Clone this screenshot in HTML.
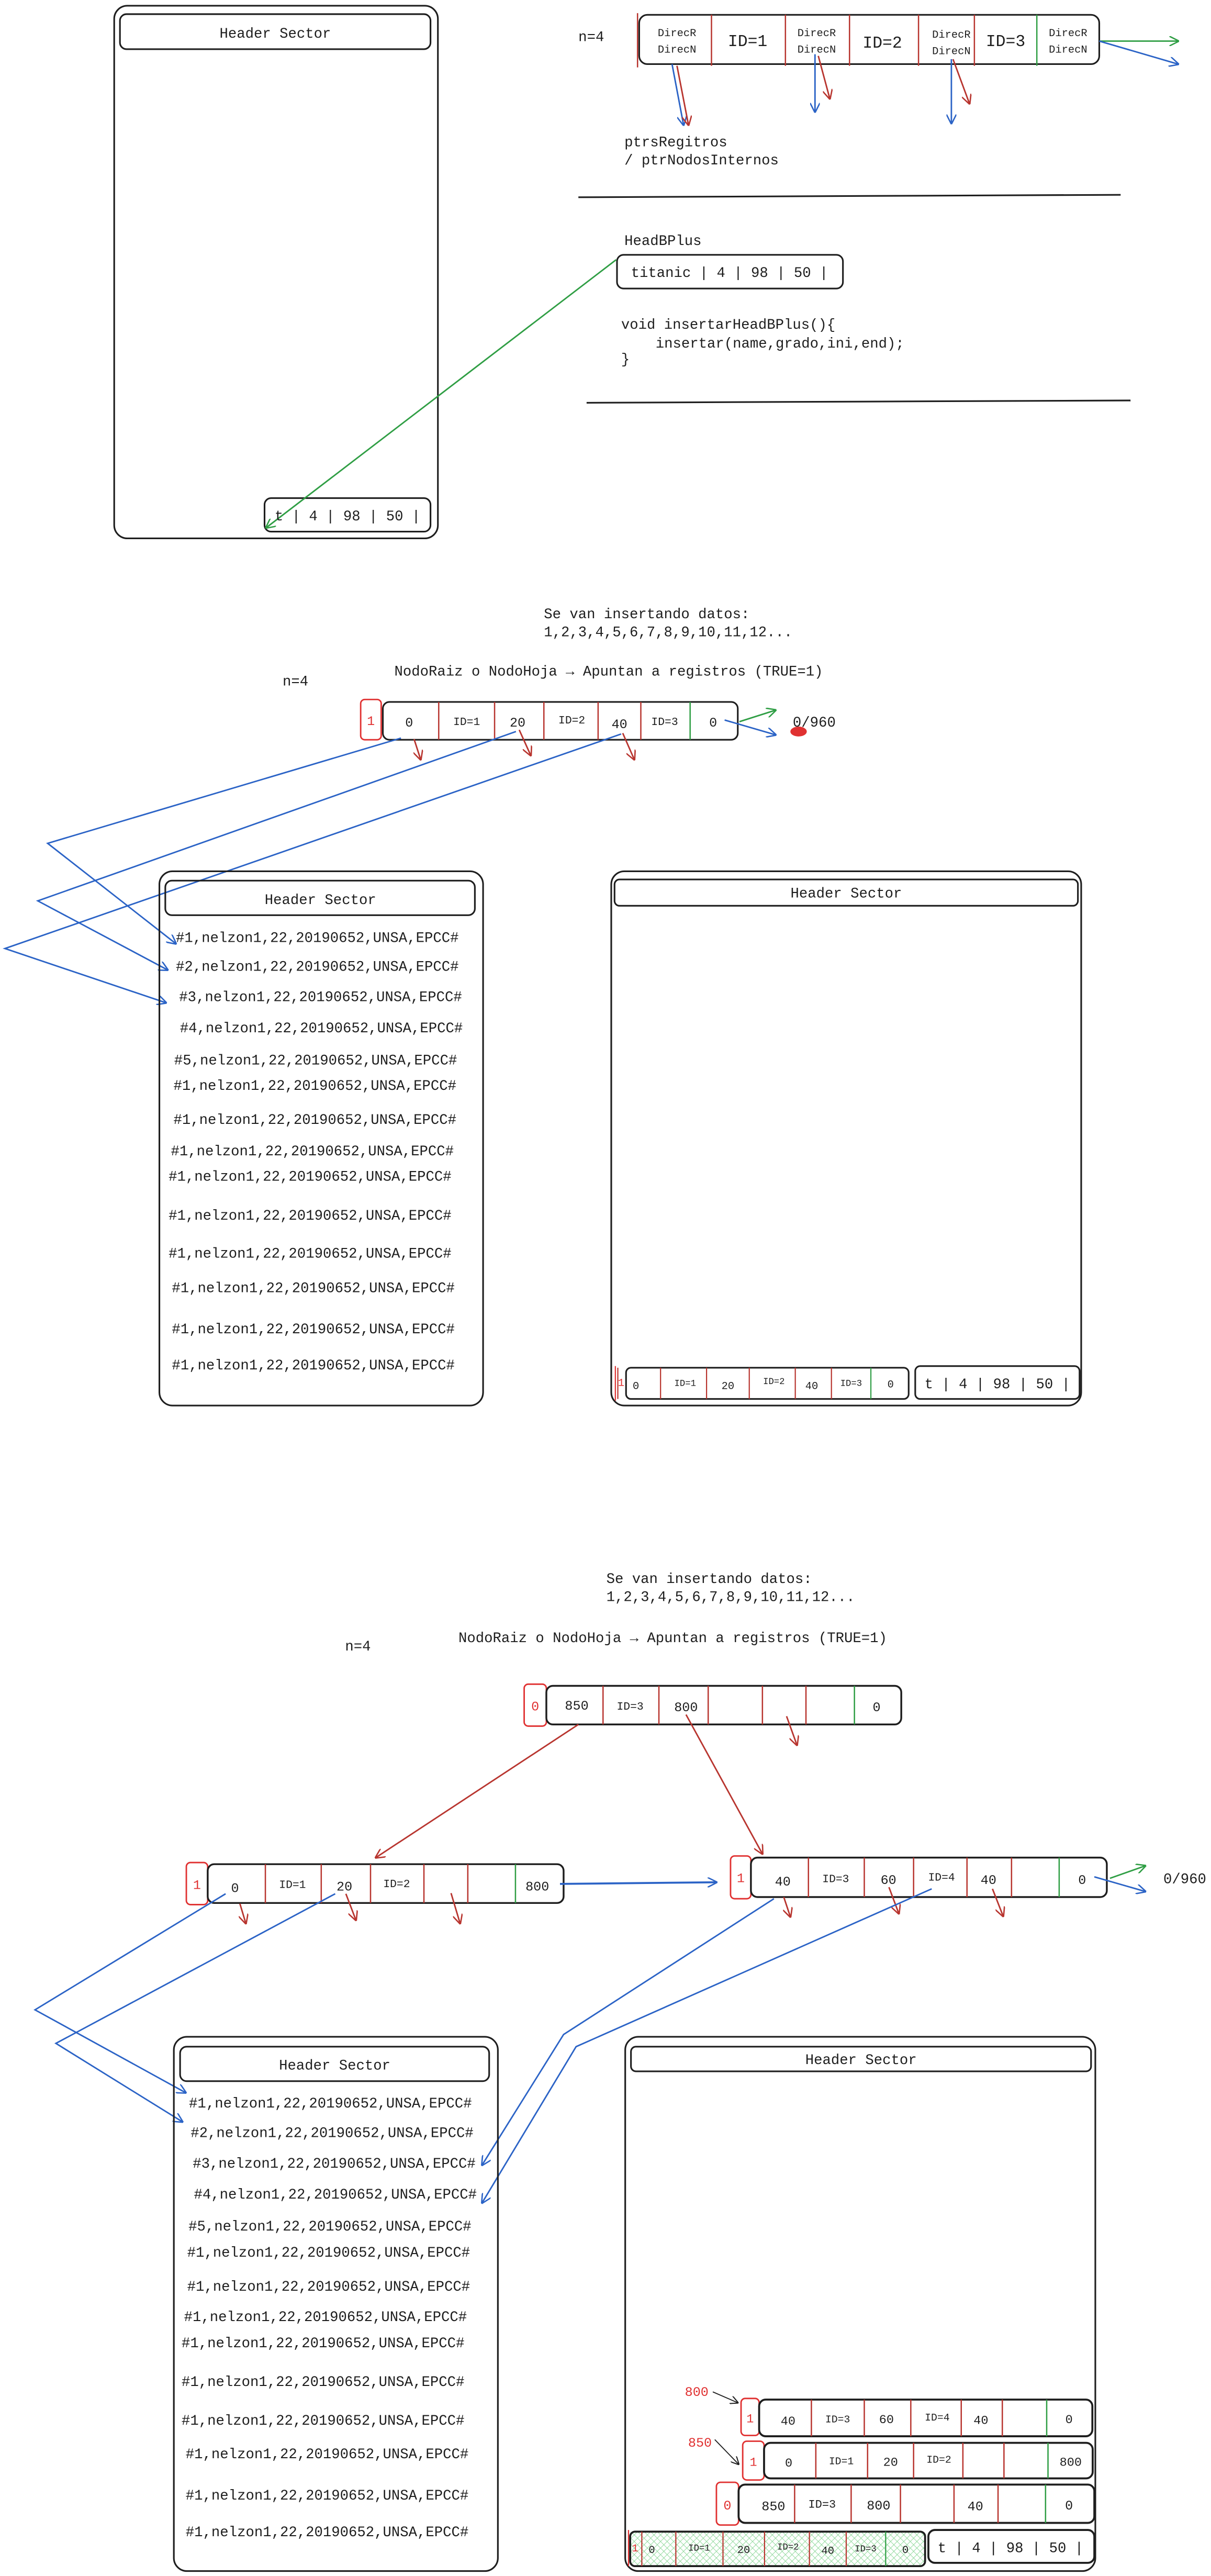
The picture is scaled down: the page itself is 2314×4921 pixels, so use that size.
<!DOCTYPE html>
<html><head><meta charset="utf-8"><style>
html,body{margin:0;padding:0;background:#fff;}
svg{display:block;}
text{font-family:"Liberation Mono",monospace;fill:#1e1e1e;}
</style></head><body>
<svg width="2314" height="4921" viewBox="0 0 737 1567" preserveAspectRatio="none" xmlns="http://www.w3.org/2000/svg">
<defs>
<marker id="ab" viewBox="0 0 10 10" refX="9" refY="5" markerWidth="6" markerHeight="6" orient="auto" markerUnits="userSpaceOnUse"><path d="M0,0 L10,5 L0,10" fill="none" stroke="#2b63c6" stroke-width="1.4"/></marker>
<marker id="ar" viewBox="0 0 10 10" refX="9" refY="5" markerWidth="6" markerHeight="6" orient="auto" markerUnits="userSpaceOnUse"><path d="M0,0 L10,5 L0,10" fill="none" stroke="#b8352f" stroke-width="1.4"/></marker>
<marker id="ag" viewBox="0 0 10 10" refX="9" refY="5" markerWidth="6" markerHeight="6" orient="auto" markerUnits="userSpaceOnUse"><path d="M0,0 L10,5 L0,10" fill="none" stroke="#2f9e44" stroke-width="1.4"/></marker>
<marker id="ak" viewBox="0 0 10 10" refX="9" refY="5" markerWidth="5" markerHeight="5" orient="auto" markerUnits="userSpaceOnUse"><path d="M0,0 L10,5 L0,10" fill="none" stroke="#1e1e1e" stroke-width="1.3"/></marker>
<pattern id="hatch" width="4" height="4" patternUnits="userSpaceOnUse"><path d="M0,0 L4,4 M4,0 L0,4" stroke="#8fd99b" stroke-width="0.3"/></pattern>
</defs>

<g fill="none" stroke="#1e1e1e" stroke-width="1">
<rect x="69.5" y="3.5" width="197" height="324" rx="8"/>
<rect x="73" y="8.6" width="189" height="21.3" rx="4"/>
<rect x="161" y="303" width="101" height="20.4" rx="4"/>
<rect x="389" y="9" width="280" height="30" rx="5"/>
<line x1="352" y1="120" x2="682" y2="118.5"/>
<line x1="357" y1="245" x2="688" y2="243.6"/>
<rect x="375.5" y="155" width="137.5" height="20.5" rx="4"/>
</g>
<g stroke="#b8352f" stroke-width="0.8">
<line x1="388" y1="8" x2="388" y2="41"/>
<line x1="433" y1="9" x2="433" y2="40"/>
<line x1="478" y1="9" x2="478" y2="40"/>
<line x1="517" y1="9" x2="517" y2="40"/>
<line x1="559" y1="9" x2="559" y2="40"/>
<line x1="593" y1="9" x2="593" y2="40"/>
</g>
<line x1="631" y1="9" x2="631" y2="40" stroke="#2f9e44" stroke-width="0.8"/>
<g font-size="6.5" text-anchor="middle">
<text x="412" y="22">DirecR</text><text x="412" y="32">DirecN</text>
<text x="497" y="22">DirecR</text><text x="497" y="32">DirecN</text>
<text x="579" y="23">DirecR</text><text x="579" y="33">DirecN</text>
<text x="650" y="22">DirecR</text><text x="650" y="32">DirecN</text>
</g>
<g font-size="10" text-anchor="middle">
<text x="455" y="28">ID=1</text><text x="537" y="29">ID=2</text><text x="612" y="28">ID=3</text>
</g>
<g fill="none" stroke-width="0.9">
<line x1="409" y1="39" x2="416" y2="76" stroke="#2b63c6" marker-end="url(#ab)"/>
<line x1="412" y1="40" x2="419" y2="76" stroke="#b8352f" marker-end="url(#ar)"/>
<line x1="496" y1="33" x2="496" y2="68" stroke="#2b63c6" marker-end="url(#ab)"/>
<line x1="498" y1="34" x2="505" y2="60" stroke="#b8352f" marker-end="url(#ar)"/>
<line x1="579" y1="36" x2="579" y2="75" stroke="#2b63c6" marker-end="url(#ab)"/>
<line x1="580" y1="36" x2="590" y2="63" stroke="#b8352f" marker-end="url(#ar)"/>
<line x1="669" y1="25" x2="717" y2="25" stroke="#2f9e44" marker-end="url(#ag)"/>
<line x1="669" y1="25" x2="717" y2="39" stroke="#2b63c6" marker-end="url(#ab)"/>
<line x1="375" y1="158" x2="162" y2="321" stroke="#2f9e44" marker-end="url(#ag)"/>
</g>
<g font-size="8.7">
<text x="167.5" y="23" text-anchor="middle">Header Sector</text>
<text x="211.5" y="316.5" text-anchor="middle">t | 4 | 98 | 50 |</text>
<text x="352" y="25">n=4</text>
<text x="380" y="89">ptrsRegitros</text>
<text x="380" y="100">/ ptrNodosInternos</text>
<text x="380" y="149">HeadBPlus</text>
<text x="384" y="168.5">titanic | 4 | 98 | 50 |</text>
<text x="378" y="200">void insertarHeadBPlus(){</text>
<text x="399" y="211.5">insertar(name,grado,ini,end);</text>
<text x="378" y="221">}</text>
</g>

<g font-size="8.7">
<text x="331" y="376">Se van insertando datos:</text>
<text x="331" y="387">1,2,3,4,5,6,7,8,9,10,11,12...</text>
<text x="172" y="417">n=4</text>
<text x="240" y="411">NodoRaiz o NodoHoja → Apuntan a registros (TRUE=1)</text>
<text x="482.5" y="442">0/960</text>
</g>
<ellipse cx="486" cy="445" rx="5" ry="3" fill="#e03131"/>
<rect x="219.5" y="425.5" width="12.5" height="24.5" rx="2.5" fill="none" stroke="#e03131" stroke-width="0.9"/>
<text x="225.7" y="441" font-size="8" text-anchor="middle" style="fill:#e03131">1</text>
<rect x="233" y="427" width="216" height="23" rx="4" fill="none" stroke="#1e1e1e" stroke-width="1"/>
<g stroke="#b8352f" stroke-width="0.8">
<line x1="267" y1="427" x2="267" y2="450"/><line x1="301" y1="427" x2="301" y2="450"/>
<line x1="331" y1="427" x2="331" y2="450"/><line x1="364" y1="427" x2="364" y2="450"/>
<line x1="390" y1="427" x2="390" y2="450"/>
</g>
<line x1="420" y1="427" x2="420" y2="450" stroke="#2f9e44" stroke-width="0.8"/>
<g text-anchor="middle">
<text x="249" y="442" font-size="8">0</text>
<text x="284" y="441" font-size="6.8">ID=1</text>
<text x="315" y="442" font-size="8">20</text>
<text x="348" y="440" font-size="6.8">ID=2</text>
<text x="377" y="443" font-size="8">40</text>
<text x="404.5" y="441" font-size="6.8">ID=3</text>
<text x="434" y="442" font-size="8">0</text>
</g>
<g fill="none" stroke-width="0.9">
<line x1="450" y1="439" x2="472" y2="432" stroke="#2f9e44" marker-end="url(#ag)"/>
<line x1="441" y1="438" x2="472" y2="447" stroke="#2b63c6" marker-end="url(#ab)"/>
<line x1="252" y1="449.6" x2="256" y2="462" stroke="#b8352f" marker-end="url(#ar)"/>
<line x1="316" y1="444" x2="323" y2="459.5" stroke="#b8352f" marker-end="url(#ar)"/>
<line x1="379" y1="446" x2="386" y2="462" stroke="#b8352f" marker-end="url(#ar)"/>
<polyline points="244,449 29,513 107,574" stroke="#2b63c6" marker-end="url(#ab)"/>
<polyline points="314,445 23,548 102,590" stroke="#2b63c6" marker-end="url(#ab)"/>
<polyline points="378,446.5 3,577 101,610" stroke="#2b63c6" marker-end="url(#ab)"/>
</g>
<g fill="none" stroke="#1e1e1e" stroke-width="1">
<rect x="97" y="530" width="197" height="325" rx="8"/>
<rect x="100.6" y="535.7" width="188.4" height="21" rx="4"/>
<rect x="372" y="530" width="286" height="325" rx="8"/>
<rect x="374" y="535" width="282" height="16" rx="3"/>
<rect x="381" y="832" width="172" height="19" rx="3"/>
<rect x="557" y="831" width="100" height="20" rx="3"/>
</g>
<line x1="374.5" y1="831" x2="374.5" y2="852" stroke="#e03131" stroke-width="0.7"/>
<g stroke="#b8352f" stroke-width="0.7">
<line x1="376" y1="832" x2="376" y2="851"/><line x1="402" y1="832" x2="402" y2="851"/><line x1="430" y1="832" x2="430" y2="851"/>
<line x1="456" y1="832" x2="456" y2="851"/><line x1="484" y1="832" x2="484" y2="851"/><line x1="506" y1="832" x2="506" y2="851"/>
</g>
<line x1="530" y1="832" x2="530" y2="851" stroke="#2f9e44" stroke-width="0.7"/>
<g text-anchor="middle" font-size="6.5">
<text x="378" y="843" style="fill:#e03131">1</text>
<text x="387" y="845">0</text><text x="417" y="843" font-size="5.5">ID=1</text>
<text x="443" y="845">20</text><text x="471" y="842" font-size="5.5">ID=2</text>
<text x="494" y="845">40</text><text x="518" y="843" font-size="5.5">ID=3</text><text x="542" y="844">0</text>
</g>
<text x="607" y="844.5" font-size="8.7" text-anchor="middle">t | 4 | 98 | 50 |</text>
<g font-size="8.7">
<text x="195" y="550" text-anchor="middle">Header Sector</text>
<text x="515" y="546" text-anchor="middle">Header Sector</text>
<text x="107" y="573">#1,nelzon1,22,20190652,UNSA,EPCC#</text>
<text x="107" y="590.5">#2,nelzon1,22,20190652,UNSA,EPCC#</text>
<text x="109" y="609">#3,nelzon1,22,20190652,UNSA,EPCC#</text>
<text x="109.5" y="628">#4,nelzon1,22,20190652,UNSA,EPCC#</text>
<text x="106" y="647.6">#5,nelzon1,22,20190652,UNSA,EPCC#</text>
<text x="105.6" y="663">#1,nelzon1,22,20190652,UNSA,EPCC#</text>
<text x="105.6" y="683.6">#1,nelzon1,22,20190652,UNSA,EPCC#</text>
<text x="104" y="702.7">#1,nelzon1,22,20190652,UNSA,EPCC#</text>
<text x="102.6" y="718.3">#1,nelzon1,22,20190652,UNSA,EPCC#</text>
<text x="102.6" y="742">#1,nelzon1,22,20190652,UNSA,EPCC#</text>
<text x="102.6" y="765">#1,nelzon1,22,20190652,UNSA,EPCC#</text>
<text x="104.6" y="786">#1,nelzon1,22,20190652,UNSA,EPCC#</text>
<text x="104.6" y="811">#1,nelzon1,22,20190652,UNSA,EPCC#</text>
<text x="104.6" y="833">#1,nelzon1,22,20190652,UNSA,EPCC#</text>
</g>

<g font-size="8.7">
<text x="369" y="963">Se van insertando datos:</text>
<text x="369" y="974">1,2,3,4,5,6,7,8,9,10,11,12...</text>
<text x="210" y="1004">n=4</text>
<text x="279" y="999">NodoRaiz o NodoHoja → Apuntan a registros (TRUE=1)</text>
<text x="708" y="1145.6">0/960</text>
</g>
<rect x="319" y="1024.5" width="13.5" height="25.5" rx="2.5" fill="none" stroke="#e03131" stroke-width="0.9"/>
<text x="325.7" y="1040.5" font-size="8" text-anchor="middle" style="fill:#e03131">0</text>
<rect x="332.5" y="1025.5" width="216" height="23.5" rx="4" fill="none" stroke="#1e1e1e" stroke-width="1.1"/>
<g stroke="#b8352f" stroke-width="0.8">
<line x1="367" y1="1025.5" x2="367" y2="1049"/><line x1="401" y1="1025.5" x2="401" y2="1049"/>
<line x1="431" y1="1025.5" x2="431" y2="1049"/><line x1="464" y1="1025.5" x2="464" y2="1049"/>
<line x1="490.5" y1="1025.5" x2="490.5" y2="1049"/>
</g>
<line x1="520" y1="1025.5" x2="520" y2="1049" stroke="#2f9e44" stroke-width="0.8"/>
<g text-anchor="middle">
<text x="351" y="1040" font-size="8">850</text>
<text x="383.5" y="1040" font-size="6.8">ID=3</text>
<text x="417.5" y="1041" font-size="8">800</text>
<text x="533.5" y="1041" font-size="8">0</text>
</g>
<rect x="113.4" y="1133" width="13" height="25.6" rx="2.5" fill="none" stroke="#e03131" stroke-width="0.9"/>
<text x="119.9" y="1149" font-size="8" text-anchor="middle" style="fill:#e03131">1</text>
<rect x="126.4" y="1134" width="216.6" height="23.6" rx="4" fill="none" stroke="#1e1e1e" stroke-width="1.1"/>
<g stroke="#b8352f" stroke-width="0.8">
<line x1="161.5" y1="1134" x2="161.5" y2="1157.6"/><line x1="195.5" y1="1134" x2="195.5" y2="1157.6"/>
<line x1="225.5" y1="1134" x2="225.5" y2="1157.6"/><line x1="258" y1="1134" x2="258" y2="1157.6"/>
<line x1="284.7" y1="1134" x2="284.7" y2="1157.6"/>
</g>
<line x1="313.7" y1="1134" x2="313.7" y2="1157.6" stroke="#2f9e44" stroke-width="0.8"/>
<g text-anchor="middle">
<text x="143" y="1151" font-size="8">0</text>
<text x="178" y="1148.5" font-size="6.8">ID=1</text>
<text x="209.6" y="1150" font-size="8">20</text>
<text x="241.4" y="1148" font-size="6.8">ID=2</text>
<text x="327" y="1150" font-size="8">800</text>
</g>
<rect x="444.6" y="1129" width="12.4" height="26" rx="2.5" fill="none" stroke="#e03131" stroke-width="0.9"/>
<text x="450.8" y="1145" font-size="8" text-anchor="middle" style="fill:#e03131">1</text>
<rect x="457" y="1130" width="216.6" height="24" rx="4" fill="none" stroke="#1e1e1e" stroke-width="1.1"/>
<g stroke="#b8352f" stroke-width="0.8">
<line x1="492" y1="1130" x2="492" y2="1154"/><line x1="526" y1="1130" x2="526" y2="1154"/>
<line x1="556" y1="1130" x2="556" y2="1154"/><line x1="588.5" y1="1130" x2="588.5" y2="1154"/>
<line x1="615.6" y1="1130" x2="615.6" y2="1154"/>
</g>
<line x1="644.6" y1="1130" x2="644.6" y2="1154" stroke="#2f9e44" stroke-width="0.8"/>
<g text-anchor="middle">
<text x="476.4" y="1147" font-size="8">40</text>
<text x="508.6" y="1145" font-size="6.8">ID=3</text>
<text x="540.7" y="1146" font-size="8">60</text>
<text x="573" y="1144" font-size="6.8">ID=4</text>
<text x="601.6" y="1146" font-size="8">40</text>
<text x="658.6" y="1146" font-size="8">0</text>
</g>
<g fill="none" stroke-width="0.9">
<line x1="478.7" y1="1044" x2="485" y2="1061.5" stroke="#b8352f" marker-end="url(#ar)"/>
<line x1="352" y1="1049" x2="228.7" y2="1130" stroke="#b8352f" marker-end="url(#ar)"/>
<line x1="417.5" y1="1043" x2="464" y2="1127.7" stroke="#b8352f" marker-end="url(#ar)"/>
<line x1="146" y1="1158" x2="149.6" y2="1170" stroke="#b8352f" marker-end="url(#ar)"/>
<line x1="210.5" y1="1152" x2="216.6" y2="1168" stroke="#b8352f" marker-end="url(#ar)"/>
<line x1="274.5" y1="1151.6" x2="280" y2="1170" stroke="#b8352f" marker-end="url(#ar)"/>
<line x1="477" y1="1154" x2="481" y2="1166" stroke="#b8352f" marker-end="url(#ar)"/>
<line x1="541" y1="1148" x2="547" y2="1164" stroke="#b8352f" marker-end="url(#ar)"/>
<line x1="604" y1="1149" x2="610.5" y2="1165.6" stroke="#b8352f" marker-end="url(#ar)"/>
<line x1="340.8" y1="1146" x2="436" y2="1145" stroke="#2b63c6" stroke-width="1.2" marker-end="url(#ab)"/>
<line x1="675.5" y1="1142.6" x2="697" y2="1135" stroke="#2f9e44" marker-end="url(#ag)"/>
<line x1="666" y1="1141.7" x2="697" y2="1150.6" stroke="#2b63c6" marker-end="url(#ab)"/>
<polyline points="137.3,1152 21.3,1222.6 113,1273" stroke="#2b63c6" marker-end="url(#ab)"/>
<polyline points="204,1152 34,1243 111,1290.7" stroke="#2b63c6" marker-end="url(#ab)"/>
<polyline points="471,1155 343,1237.6 293.4,1317" stroke="#2b63c6" marker-end="url(#ab)"/>
<polyline points="567,1149 350.6,1245 293.4,1340" stroke="#2b63c6" marker-end="url(#ab)"/>
</g>
<g fill="none" stroke="#1e1e1e" stroke-width="1">
<rect x="105.8" y="1239" width="197.2" height="325" rx="8"/>
<rect x="109.6" y="1245" width="188.1" height="21" rx="4"/>
<rect x="380.5" y="1239" width="286.1" height="325" rx="8"/>
<rect x="384" y="1245" width="280" height="15" rx="3"/>
</g>
<g font-size="8.7">
<text x="203.7" y="1259" text-anchor="middle">Header Sector</text>
<text x="524" y="1255.5" text-anchor="middle">Header Sector</text>
<text x="115" y="1282">#1,nelzon1,22,20190652,UNSA,EPCC#</text>
<text x="116" y="1300">#2,nelzon1,22,20190652,UNSA,EPCC#</text>
<text x="117.3" y="1318.6">#3,nelzon1,22,20190652,UNSA,EPCC#</text>
<text x="118" y="1337.4">#4,nelzon1,22,20190652,UNSA,EPCC#</text>
<text x="114.7" y="1356.8">#5,nelzon1,22,20190652,UNSA,EPCC#</text>
<text x="113.9" y="1372.7">#1,nelzon1,22,20190652,UNSA,EPCC#</text>
<text x="113.9" y="1393.4">#1,nelzon1,22,20190652,UNSA,EPCC#</text>
<text x="112" y="1412">#1,nelzon1,22,20190652,UNSA,EPCC#</text>
<text x="110.5" y="1427.8">#1,nelzon1,22,20190652,UNSA,EPCC#</text>
<text x="110.5" y="1451.4">#1,nelzon1,22,20190652,UNSA,EPCC#</text>
<text x="110.5" y="1475">#1,nelzon1,22,20190652,UNSA,EPCC#</text>
<text x="113" y="1495.4">#1,nelzon1,22,20190652,UNSA,EPCC#</text>
<text x="113" y="1520.5">#1,nelzon1,22,20190652,UNSA,EPCC#</text>
<text x="113" y="1542.8">#1,nelzon1,22,20190652,UNSA,EPCC#</text>
</g>
<text x="424" y="1457.4" font-size="8" text-anchor="middle" style="fill:#e03131">800</text>
<text x="426" y="1488.3" font-size="8" text-anchor="middle" style="fill:#e03131">850</text>
<line x1="433.8" y1="1455" x2="449" y2="1461.6" stroke="#1e1e1e" stroke-width="0.6" marker-end="url(#ak)"/>
<line x1="435" y1="1484" x2="449.5" y2="1499" stroke="#1e1e1e" stroke-width="0.6" marker-end="url(#ak)"/>
<rect x="451" y="1459" width="11" height="22.5" rx="2.5" fill="none" stroke="#e03131" stroke-width="0.9"/>
<text x="456.5" y="1473.5" font-size="7.5" text-anchor="middle" style="fill:#e03131">1</text>
<rect x="462" y="1459.7" width="202.8" height="22.3" rx="4" fill="none" stroke="#1e1e1e" stroke-width="1.2"/>
<g stroke="#b8352f" stroke-width="0.8">
<line x1="493.8" y1="1459.7" x2="493.8" y2="1482"/><line x1="526" y1="1459.7" x2="526" y2="1482"/>
<line x1="554.3" y1="1459.7" x2="554.3" y2="1482"/><line x1="585" y1="1459.7" x2="585" y2="1482"/>
<line x1="610" y1="1459.7" x2="610" y2="1482"/>
</g>
<line x1="637" y1="1459.7" x2="637" y2="1482" stroke="#2f9e44" stroke-width="0.8"/>
<g text-anchor="middle">
<text x="479.6" y="1475" font-size="7.5">40</text><text x="509.8" y="1473.5" font-size="6.3">ID=3</text>
<text x="539.5" y="1474" font-size="7.5">60</text><text x="570.4" y="1472.5" font-size="6.3">ID=4</text>
<text x="597" y="1474.5" font-size="7.5">40</text><text x="650.6" y="1474" font-size="7.5">0</text>
</g>
<rect x="452" y="1485" width="13" height="23.6" rx="2.5" fill="none" stroke="#e03131" stroke-width="0.9"/>
<text x="458.5" y="1500" font-size="7.5" text-anchor="middle" style="fill:#e03131">1</text>
<rect x="465" y="1486" width="200" height="21.6" rx="4" fill="none" stroke="#1e1e1e" stroke-width="1.2"/>
<g stroke="#b8352f" stroke-width="0.8">
<line x1="496.5" y1="1486" x2="496.5" y2="1507.6"/><line x1="528" y1="1486" x2="528" y2="1507.6"/>
<line x1="556" y1="1486" x2="556" y2="1507.6"/><line x1="586" y1="1486" x2="586" y2="1507.6"/>
<line x1="611" y1="1486" x2="611" y2="1507.6"/>
</g>
<line x1="637.8" y1="1486" x2="637.8" y2="1507.6" stroke="#2f9e44" stroke-width="0.8"/>
<g text-anchor="middle">
<text x="480" y="1500.5" font-size="7.5">0</text><text x="512" y="1499" font-size="6.3">ID=1</text>
<text x="542" y="1500" font-size="7.5">20</text><text x="571.4" y="1498" font-size="6.3">ID=2</text>
<text x="651.6" y="1500" font-size="7.5">800</text>
</g>
<rect x="436" y="1510" width="13.5" height="26" rx="2.5" fill="none" stroke="#e03131" stroke-width="0.9"/>
<text x="442.7" y="1526.5" font-size="8" text-anchor="middle" style="fill:#e03131">0</text>
<rect x="449.5" y="1511.4" width="216.5" height="23.3" rx="4" fill="none" stroke="#1e1e1e" stroke-width="1.2"/>
<g stroke="#b8352f" stroke-width="0.8">
<line x1="483.6" y1="1511.4" x2="483.6" y2="1534.7"/><line x1="518" y1="1511.4" x2="518" y2="1534.7"/>
<line x1="548" y1="1511.4" x2="548" y2="1534.7"/><line x1="580.6" y1="1511.4" x2="580.6" y2="1534.7"/>
<line x1="607.4" y1="1511.4" x2="607.4" y2="1534.7"/>
</g>
<line x1="636.3" y1="1511.4" x2="636.3" y2="1534.7" stroke="#2f9e44" stroke-width="0.8"/>
<g text-anchor="middle">
<text x="470.7" y="1527" font-size="8">850</text><text x="500.3" y="1525.5" font-size="7">ID=3</text>
<text x="534.7" y="1526.5" font-size="8">800</text><text x="593.6" y="1527" font-size="8">40</text>
<text x="650.6" y="1526.5" font-size="8">0</text>
</g>
<rect x="383.5" y="1540" width="179.5" height="21" rx="3" fill="url(#hatch)" stroke="#1e1e1e" stroke-width="1.2"/>
<line x1="382.5" y1="1539" x2="382.5" y2="1561" stroke="#e03131" stroke-width="0.7"/>
<g stroke="#b8352f" stroke-width="0.7">
<line x1="390.6" y1="1540" x2="390.6" y2="1561"/><line x1="411.3" y1="1540" x2="411.3" y2="1561"/>
<line x1="440" y1="1540" x2="440" y2="1561"/><line x1="465.3" y1="1540" x2="465.3" y2="1561"/>
<line x1="492.6" y1="1540" x2="492.6" y2="1561"/><line x1="515" y1="1540" x2="515" y2="1561"/>
</g>
<line x1="539" y1="1540" x2="539" y2="1561" stroke="#2f9e44" stroke-width="0.7"/>
<g text-anchor="middle" font-size="6.5">
<text x="386.5" y="1552" style="fill:#e03131">1</text>
<text x="396.7" y="1553">0</text><text x="425.5" y="1551.5" font-size="5.5">ID=1</text>
<text x="452.6" y="1553">20</text><text x="479.6" y="1551" font-size="5.5">ID=2</text>
<text x="503.8" y="1553.5">40</text><text x="526.8" y="1552" font-size="5.5">ID=3</text>
<text x="551" y="1553">0</text>
</g>
<rect x="565" y="1539" width="101" height="20" rx="4" fill="none" stroke="#1e1e1e" stroke-width="1.2"/>
<text x="615" y="1552.5" font-size="8.7" text-anchor="middle">t | 4 | 98 | 50 |</text>
</svg>
</body></html>
